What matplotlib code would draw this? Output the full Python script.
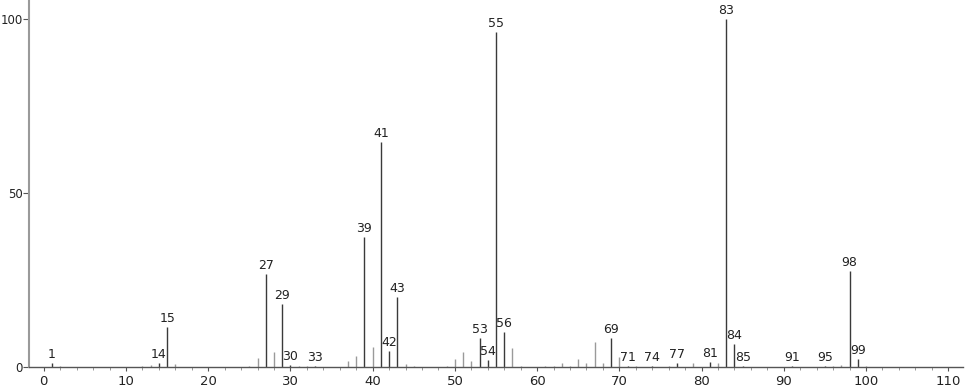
import matplotlib
matplotlib.use("Agg")
import matplotlib.pyplot as plt
from matplotlib.ticker import MultipleLocator

# m/z values and relative intensities
mz = [1, 2, 12, 13, 14, 15, 16, 25, 26, 27, 28, 29, 30, 31, 32, 33,
      37, 38, 39, 40, 41, 42, 43, 44, 45, 49, 50, 51, 52, 53, 54, 55,
      56, 57, 58, 61, 62, 63, 64, 65, 66, 67, 68, 69, 70, 71, 72, 74,
      76, 77, 79, 81, 82, 83, 84, 85, 91, 95, 96, 97, 98, 99, 100]
intensity = [1.2, 0.4, 0.3, 0.5, 1.1, 11.5, 0.8, 0.3, 2.6, 26.7, 4.2, 18.1, 0.5, 0.3, 0.4, 0.3,
             1.7, 3.3, 37.4, 5.7, 64.7, 4.6, 20.0, 0.8, 0.3, 0.3, 2.3, 4.2, 1.6, 8.2, 2.0, 96.3,
             10.0, 5.5, 0.4, 0.3, 0.3, 1.2, 0.3, 2.3, 1.2, 7.3, 1.2, 8.2, 3.0, 0.3, 0.2, 0.3,
             0.3, 1.1, 1.1, 1.5, 1.1, 100.0, 6.6, 0.3, 0.3, 0.3, 0.3, 0.5, 27.7, 2.2, 0.3]
labeled = [1, 14, 15, 27, 29, 30, 33, 39, 41, 42, 43, 53, 54, 55, 56, 69, 71,
           74, 77, 81, 83, 84, 85, 91, 95, 98, 99]
xticks = [0, 10, 20, 30, 40, 50, 60, 70, 80, 90, 100, 110]
yticks = [0, 50, 100]

plt.rcParams['font.family'] = ['DejaVu Sans']

fig = plt.figure(figsize=(9.66, 3.89), dpi=100)
ax = fig.add_axes([29/966, 22/389, (963-29)/966, 1 - 22/389])

for m, v in zip(mz, intensity):
    col = '#3a3a3a' if m in labeled else '#9a9a9a'
    ax.vlines(m, 0, v, color=col, linewidth=1.0)
    if m in labeled:
        ax.annotate(str(m), (m, v), xytext=(0, 1.5), textcoords='offset points',
                    ha='center', va='bottom', fontsize=9, color='#222222')

ax.set_xlim(-1.8, 111.8)
ax.set_ylim(0, 105.5)
ax.set_xticks(xticks)
ax.set_yticks(yticks)
ax.xaxis.set_minor_locator(MultipleLocator(2))

for s in ['top', 'right']:
    ax.spines[s].set_visible(False)
ax.spines['left'].set_color('#9a9a9a')
ax.spines['left'].set_linewidth(1.5)
ax.spines['bottom'].set_color('#555555')
ax.spines['bottom'].set_linewidth(1.0)

ax.tick_params(axis='x', which='major', length=3, width=0.8, color='#555555',
               labelsize=9.5, pad=3, labelcolor='#222222')
ax.tick_params(axis='x', which='minor', length=2, width=0.6, color='#888888')
ax.tick_params(axis='y', which='major', length=4, width=0.8, color='#555555',
               labelsize=8.5, pad=0.5, labelcolor='#222222')

fig.savefig('out.png', dpi=100)
